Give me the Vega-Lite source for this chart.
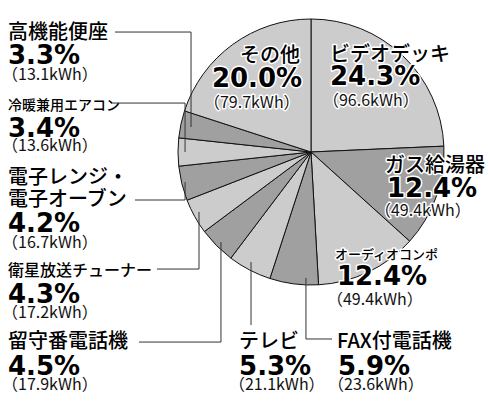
{
  "$schema": "https://vega.github.io/schema/vega-lite/v6.json",
  "width": 489,
  "height": 407,
  "autosize": {"type": "fit", "contains": "padding"},
  "padding": 0,
  "background": "white",
  "config": {"view": {"stroke": null}},
  "datasets": {
    "slices": [
      {"ord": 1, "name": "ビデオデッキ", "pct": 24.3, "pctText": "24.3%", "kwh": "（96.6kWh）", "shade": "light", "nx": 14.3, "ny": 68.4, "px": 14.3, "py": 50.4, "kx": 9.0, "ky": 34.6},
      {"ord": 2, "name": "ガス給湯器", "pct": 12.4, "pctText": "12.4%", "kwh": "（49.4kWh）", "shade": "dark", "nx": 55.6, "ny": -15.0, "px": 57.1, "py": -33.8, "kx": 48.1, "ky": -48.1},
      {"ord": 3, "name": "オーディオコンポ", "pct": 12.4, "pctText": "12.4%", "kwh": "（49.4kWh）", "shade": "light", "nx": 18.0, "ny": -80.5, "px": 19.5, "py": -100.0, "kx": 12.0, "ky": -115.0},
      {"ord": 4, "name": "FAX付電話機", "pct": 5.9, "pctText": "5.9%", "kwh": "（23.6kWh）", "shade": "dark", "nx": 19.5, "ny": -147.4, "px": 20.3, "py": -167.7, "kx": 12.8, "ky": -178.9},
      {"ord": 5, "name": "テレビ", "pct": 5.3, "pctText": "5.3%", "kwh": "（21.1kWh）", "shade": "light", "nx": -54.1, "ny": -147.4, "px": -54.1, "py": -167.7, "kx": -61.7, "ky": -178.9},
      {"ord": 6, "name": "留守番電話機", "pct": 4.5, "pctText": "4.5%", "kwh": "（17.9kWh）", "shade": "dark", "nx": -227.8, "ny": -147.4, "px": -227.8, "py": -167.7, "kx": -232.3, "ky": -178.9},
      {"ord": 7, "name": "衛星放送チューナー", "pct": 4.3, "pctText": "4.3%", "kwh": "（17.2kWh）", "shade": "light", "nx": -227.8, "ny": -93.2, "px": -227.8, "py": -113.5, "kx": -232.3, "ky": -124.8},
      {"ord": 8, "name": "電子レンジ・\n電子オーブン", "pct": 4.2, "pctText": "4.2%", "kwh": "（16.7kWh）", "shade": "dark", "nx": -227.8, "ny": -24.1, "px": -227.8, "py": -60.2, "kx": -232.3, "ky": -72.2},
      {"ord": 9, "name": "冷暖兼用エアコン", "pct": 3.4, "pctText": "3.4%", "kwh": "（13.6kWh）", "shade": "light", "nx": -227.8, "ny": 31.6, "px": -227.8, "py": 11.3, "kx": -232.3, "ky": 0.75},
      {"ord": 10, "name": "高機能便座", "pct": 3.3, "pctText": "3.3%", "kwh": "（13.1kWh）", "shade": "dark", "nx": -227.8, "ny": 85.0, "px": -227.8, "py": 66.2, "kx": -232.3, "ky": 54.1},
      {"ord": 11, "name": "その他", "pct": 20.0, "pctText": "20.0%", "kwh": "（79.7kWh）", "shade": "light", "nx": -53.4, "ny": 67.7, "px": -74.5, "py": 48.9, "kx": -80.5, "ky": 33.1}
    ],
    "leaders": [
      {"x": -147.4, "y": 90.2, "x2": -90.2, "y2": 90.2},
      {"x": -90.2, "y": 90.2, "x2": -90.2, "y2": 18.8},
      {"x": -148.9, "y": 36.8, "x2": -94.7, "y2": 36.8},
      {"x": -94.7, "y": 36.8, "x2": -94.7, "y2": 0},
      {"x": -132.3, "y": -36.1, "x2": -94.7, "y2": -36.1},
      {"x": -94.7, "y": -36.1, "x2": -94.7, "y2": -22.6},
      {"x": -115.8, "y": -88.0, "x2": -84.2, "y2": -88.0},
      {"x": -84.2, "y": -88.0, "x2": -84.2, "y2": -45.1},
      {"x": -129.3, "y": -142.9, "x2": -67.7, "y2": -142.9},
      {"x": -67.7, "y": -142.9, "x2": -67.7, "y2": -67.7},
      {"x": -45.1, "y": -82.7, "x2": -45.1, "y2": -130.1},
      {"x": -3.8, "y": -94.7, "x2": -3.8, "y2": -140.6},
      {"x": -3.8, "y": -140.6, "x2": 15.8, "y2": -140.6}
    ]
  },
  "layer": [
    {
      "data": {"name": "slices"},
      "mark": {"type": "arc", "outerRadius": 133, "stroke": "#111111", "strokeWidth": 1},
      "encoding": {
        "theta": {"field": "pct", "type": "quantitative", "stack": true},
        "order": {"field": "ord", "type": "quantitative"},
        "color": {"field": "shade", "type": "nominal", "scale": {"domain": ["light", "dark"], "range": ["#cccccc", "#a0a0a0"]}, "legend": null},
        "x": {"datum": 0, "type": "quantitative", "scale": {"domain": [-233.83, 133.83], "nice": false, "zero": false}, "axis": null},
        "y": {"datum": 0, "type": "quantitative", "scale": {"domain": [-191.73, 114.29], "nice": false, "zero": false}, "axis": null}
      }
    },
    {
      "data": {"name": "leaders"},
      "mark": {"type": "rule", "color": "#333333", "strokeWidth": 1},
      "encoding": {
        "x": {"field": "x", "type": "quantitative", "axis": null},
        "y": {"field": "y", "type": "quantitative", "axis": null},
        "x2": {"field": "x2"},
        "y2": {"field": "y2"}
      }
    },
    {
      "data": {"name": "slices"},
      "transform": [{"filter": "datum.ord <= 3 || datum.ord == 11"}],
      "mark": {"type": "text", "align": "left", "baseline": "alphabetic", "font": "Noto Sans CJK JP", "fontWeight": 500, "lineBreak": "\n", "lineHeight": 22, "stroke": "white", "strokeWidth": 3, "strokeJoin": "round", "fill": "white"},
      "encoding": {
        "text": {"field": "name"},
        "x": {"field": "nx", "type": "quantitative", "axis": null},
        "y": {"field": "ny", "type": "quantitative", "axis": null},
        "size": {"condition": [
          {"test": "datum.name === 'オーディオコンポ'", "value": 13}
        ], "value": 20}
      }
    },
    {
      "data": {"name": "slices"},
      "mark": {"type": "text", "align": "left", "baseline": "alphabetic", "font": "Noto Sans CJK JP", "fontWeight": 500, "lineBreak": "\n", "lineHeight": 22, "fill": "#000000"},
      "encoding": {
        "text": {"field": "name"},
        "x": {"field": "nx", "type": "quantitative", "axis": null},
        "y": {"field": "ny", "type": "quantitative", "axis": null},
        "size": {"condition": [
          {"test": "datum.name === '冷暖兼用エアコン'", "value": 14},
          {"test": "datum.name === 'オーディオコンポ'", "value": 13},
          {"test": "datum.name === '衛星放送チューナー'", "value": 16}
        ], "value": 20}
      }
    },
    {
      "data": {"name": "slices"},
      "transform": [{"filter": "datum.ord <= 3 || datum.ord == 11"}],
      "mark": {"type": "text", "align": "left", "baseline": "alphabetic", "font": "DejaVu Sans", "fontWeight": "bold", "fontSize": 26, "stroke": "white", "strokeWidth": 3, "strokeJoin": "round", "fill": "white"},
      "encoding": {
        "text": {"field": "pctText"},
        "x": {"field": "px", "type": "quantitative", "axis": null},
        "y": {"field": "py", "type": "quantitative", "axis": null}
      }
    },
    {
      "data": {"name": "slices"},
      "mark": {"type": "text", "align": "left", "baseline": "alphabetic", "font": "DejaVu Sans", "fontWeight": "bold", "fontSize": 26, "fill": "#000000"},
      "encoding": {
        "text": {"field": "pctText"},
        "x": {"field": "px", "type": "quantitative", "axis": null},
        "y": {"field": "py", "type": "quantitative", "axis": null}
      }
    },
    {
      "data": {"name": "slices"},
      "transform": [{"filter": "datum.ord <= 3 || datum.ord == 11"}],
      "mark": {"type": "text", "align": "left", "baseline": "alphabetic", "font": "Noto Sans CJK JP", "fontSize": 16, "stroke": "white", "strokeWidth": 3, "strokeJoin": "round", "fill": "white"},
      "encoding": {
        "text": {"field": "kwh"},
        "x": {"field": "kx", "type": "quantitative", "axis": null},
        "y": {"field": "ky", "type": "quantitative", "axis": null}
      }
    },
    {
      "data": {"name": "slices"},
      "mark": {"type": "text", "align": "left", "baseline": "alphabetic", "font": "Noto Sans CJK JP", "fontSize": 16, "fill": "#111111"},
      "encoding": {
        "text": {"field": "kwh"},
        "x": {"field": "kx", "type": "quantitative", "axis": null},
        "y": {"field": "ky", "type": "quantitative", "axis": null}
      }
    }
  ]
}
